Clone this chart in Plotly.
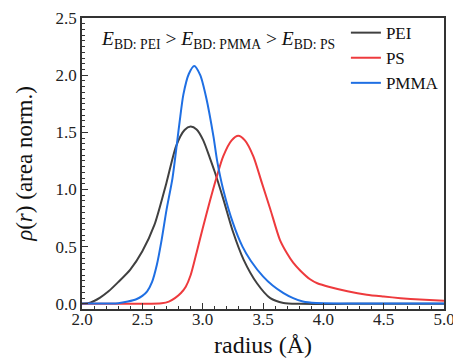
import plotly.graph_objects as go

# ---- data ----
pei_r = [2.00, 2.05, 2.10, 2.15, 2.22, 2.30, 2.40, 2.50, 2.60, 2.70, 2.78, 2.85, 2.90,
         2.95, 3.005, 3.06, 3.10, 3.17, 3.25, 3.34, 3.45, 3.56, 3.67, 3.80, 4.20, 5.00]
pei_rho = [0.000, 0.005, 0.025, 0.055, 0.110, 0.190, 0.300, 0.460, 0.690, 1.060, 1.380, 1.520,
           1.550, 1.525, 1.430, 1.275, 1.155, 0.920, 0.635, 0.385, 0.180, 0.050, 0.008, 0.000,
           0.000, 0.000]

ps_r = [2.00, 2.50, 2.66, 2.72, 2.77, 2.82, 2.86, 2.90, 2.95, 3.00, 3.06, 3.116, 3.17, 3.24, 3.295,
        3.35, 3.42, 3.49, 3.56, 3.64, 3.70, 3.75, 3.81, 3.89, 3.95, 4.06, 4.20,
        4.36, 4.50, 4.64, 4.80, 5.00]
ps_rho = [0.000, 0.001, 0.006, 0.020, 0.050, 0.095, 0.150, 0.250, 0.450, 0.660, 0.900, 1.110,
          1.290, 1.430, 1.470,
          1.430, 1.290, 1.060, 0.830, 0.560, 0.440, 0.360, 0.290, 0.215, 0.180, 0.145, 0.110,
          0.080, 0.064, 0.050, 0.038, 0.027]

pmma_r = [2.00, 2.30, 2.38, 2.45, 2.50, 2.54, 2.58, 2.62, 2.66, 2.70, 2.75, 2.79, 2.81, 2.84,
          2.885, 2.93, 2.98, 3.03, 3.09, 3.12, 3.17, 3.25, 3.33, 3.40, 3.50, 3.58, 3.67, 3.75,
          3.83, 3.94, 4.20, 5.00]
pmma_rho = [0.004, 0.006, 0.020, 0.040, 0.070, 0.110, 0.190, 0.340, 0.560, 0.820, 1.100, 1.430,
            1.600, 1.830, 2.010, 2.080,
            2.000, 1.800, 1.460, 1.250, 1.000, 0.710, 0.500, 0.375, 0.240, 0.160, 0.094, 0.050,
            0.020, 0.007, 0.004, 0.004]

series = [
    ("PEI", pei_r, pei_rho, "#404040"),
    ("PS", ps_r, ps_rho, "#ee3a3d"),
    ("PMMA", pmma_r, pmma_rho, "#1f6fe3"),
]

x_range = [2.0, 5.0]
y_range = [-0.045, 2.5]

FONT = "Liberation Serif"

fig = go.Figure()
for name, r, rho, color in series:
    fig.add_trace(go.Scatter(
        x=r, y=rho, mode="lines", name=name,
        line=dict(color=color, width=2, shape="spline", smoothing=0.7),
    ))

fig.update_xaxes(
    range=x_range, dtick=0.5, tick0=2.0, tickformat=".1f", automargin=False,
    showline=True, linecolor="#333333", linewidth=1.5, mirror=True,
    ticks="inside", tickcolor="#333333", tickwidth=1.2, ticklen=6,
    showgrid=False, zeroline=False, ticklabelstandoff=-6,
    tickfont=dict(family=FONT, size=17, color="#222222"),
    minor=dict(dtick=0.1, ticks="inside", ticklen=3, tickcolor="#333333", tickwidth=1),
    title=dict(text="radius (Å)", font=dict(family=FONT, size=24, color="#111111"), standoff=8),
)
fig.update_yaxes(
    range=y_range, dtick=0.5, tick0=0.0, tickformat=".1f", automargin=False,
    showline=True, linecolor="#333333", linewidth=1.5, mirror=True,
    ticks="inside", tickcolor="#333333", tickwidth=1.2, ticklen=6,
    showgrid=False, zeroline=False,
    tickfont=dict(family=FONT, size=17, color="#222222"),
    minor=dict(dtick=0.05, ticks="inside", ticklen=3, tickcolor="#333333", tickwidth=1),
    title=dict(text="<i>ρ</i>(<i>r</i>) (area norm.)", font=dict(family=FONT, size=23, color="#111111"), standoff=17),
)

fig.add_annotation(
    xref="paper", yref="paper", x=0.048, y=0.925, xanchor="left", yanchor="middle",
    text="<i>E</i><sub>BD: PEI</sub> > <i>E</i><sub>BD: PMMA</sub> > <i>E</i><sub>BD: PS</sub>",
    showarrow=False, font=dict(family=FONT, size=19.5, color="#111111"),
)

# page body has an 8px default margin, so the figure margins are offset by it
fig.update_layout(
    width=461, height=363,
    margin=dict(l=74, r=25, t=10, b=62, autoexpand=False),
    paper_bgcolor="white", plot_bgcolor="white",
    font=dict(family=FONT, color="#111111", size=17),
    showlegend=True,
    legend=dict(
        x=0.729, y=1.01, xanchor="left", yanchor="top",
        bgcolor="rgba(0,0,0,0)", borderwidth=0,
        font=dict(family=FONT, size=17, color="#111111"),
        tracegroupgap=0, itemwidth=30,
    ),
)

fig.write_html("out.html")
